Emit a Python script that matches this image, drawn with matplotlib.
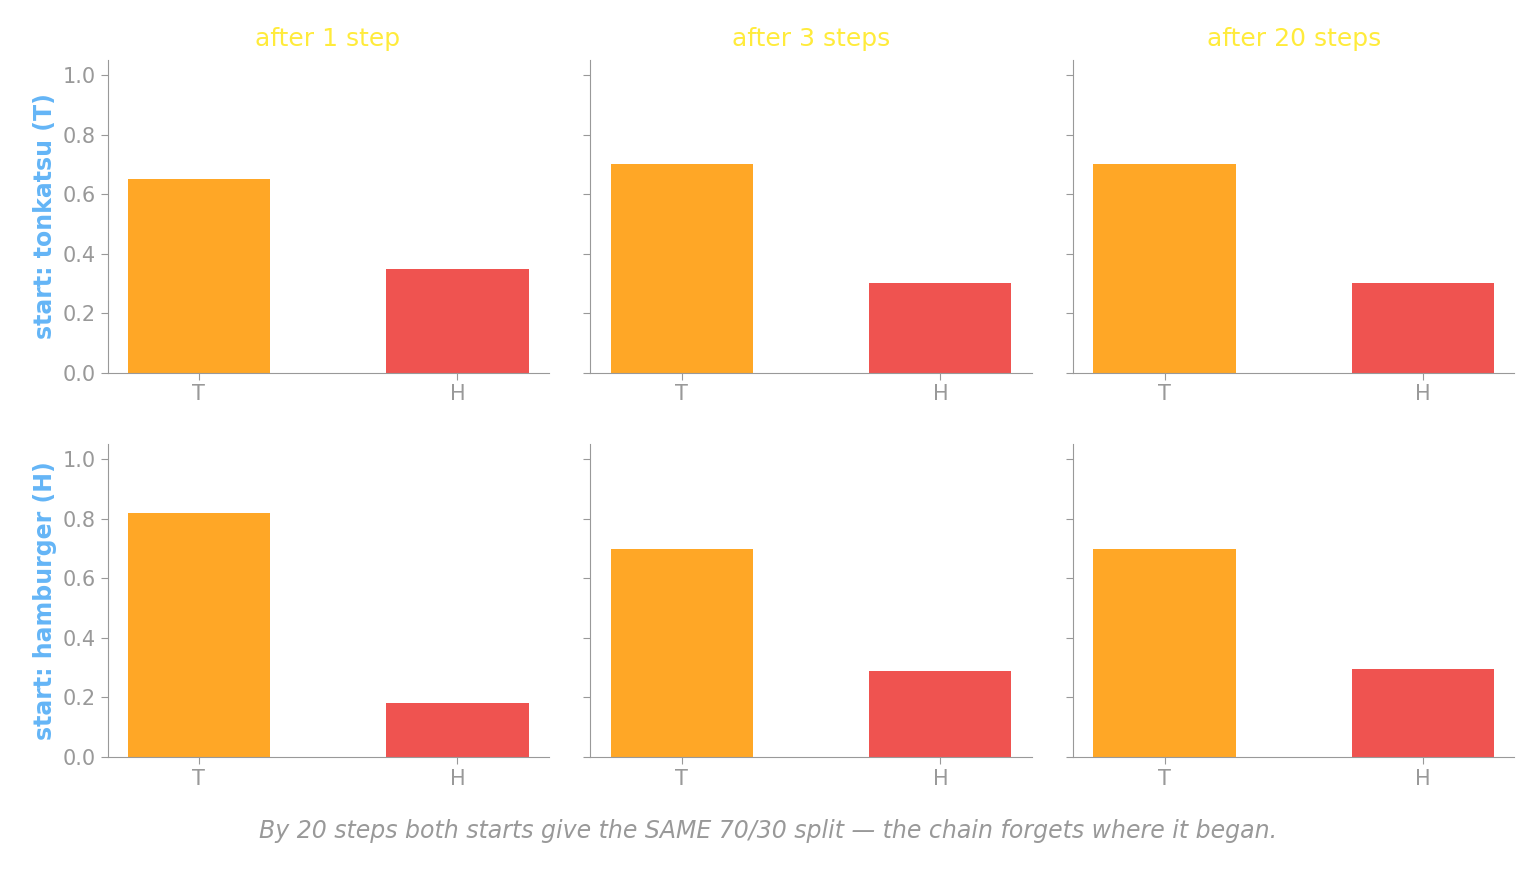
import matplotlib.pyplot as plt

states = ["T", "H"]
steps = ["after 1 step", "after 3 steps", "after 20 steps"]
starts = ["start: tonkatsu (T)", "start: hamburger (H)"]
# probabilities [start][step] -> [T, H]
probs = [
    [[0.65, 0.35], [0.70, 0.30], [0.70, 0.30]],
    [[0.82, 0.18], [0.70, 0.29], [0.70, 0.295]],
]
colors = ["#FFA726", "#EF5350"]
gray = "#999999"

fig, axes = plt.subplots(2, 3, figsize=(15.36, 8.73), dpi=100, sharey=True)
fig.subplots_adjust(left=0.07, right=0.986, top=0.931, bottom=0.133, wspace=0.095, hspace=0.23)

for r in range(2):
    for c in range(3):
        ax = axes[r][c]
        ax.bar(range(2), probs[r][c], width=0.55, color=colors)
        ax.set_xticks(range(2))
        ax.set_xticklabels(states)
        ax.set_ylim(0, 1.05)
        ax.set_yticks([0, 0.2, 0.4, 0.6, 0.8, 1.0])
        for s in ["top", "right"]:
            ax.spines[s].set_visible(False)
        for s in ["left", "bottom"]:
            ax.spines[s].set_color(gray)
        ax.tick_params(colors=gray, labelsize=15, length=5)
        if r == 0:
            ax.set_title(steps[c], color="#FFEB3B", fontsize=18, pad=10)
        if c == 0:
            ax.set_ylabel(starts[r], color="#64B5F6", fontsize=17, fontweight="bold")

fig.text(0.5, 0.04, "By 20 steps both starts give the SAME 70/30 split \u2014 the chain forgets where it began.",
         ha="center", color=gray, fontsize=17, style="italic")

fig.savefig("out.png", dpi=100)
